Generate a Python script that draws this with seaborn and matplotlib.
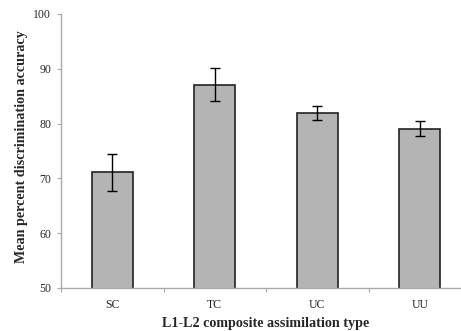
import matplotlib
matplotlib.use("Agg")
import matplotlib.pyplot as plt
import seaborn as sns
import numpy as np

categories = ["SC", "TC", "UC", "UU"]
means = [71.1, 87.1, 81.9, 79.1]
errors = [3.4, 3.0, 1.3, 1.3]

sns.set_style("white")
plt.rcParams['font.family'] = ['Liberation Serif', 'DejaVu Serif']

fig = plt.figure(figsize=(4.61, 3.31), dpi=100)
ax = fig.add_axes([61/461, 43/331, 410/461, 274/331])

sns.barplot(x=categories, y=means, color="#b4b4b4", edgecolor="#222222",
            linewidth=1.2, width=0.4, saturation=1, ax=ax)
ax.errorbar(np.arange(len(categories)), means, yerr=errors, fmt="none",
            ecolor="black", elinewidth=1.0, capsize=3.5, capthick=1.0)

ax.set_ylim(50, 100)
ax.set_xlim(-0.5, 3.5)
ax.set_yticks(range(50, 101, 10))
ax.set_xticks(np.arange(-0.5, 3.6, 1.0), minor=False)
ax.set_xticklabels([])
ax.set_xticks(np.arange(len(categories)), minor=True)
ax.set_xticklabels(categories, minor=True)
ax.tick_params(axis="x", which="major", length=3, color="#aaaaaa", direction="out", bottom=True)
ax.tick_params(axis="x", which="minor", length=0, labelsize=8.5, pad=8)
ax.tick_params(axis="y", length=3, color="#aaaaaa", direction="out", left=True, labelsize=8.5, pad=4)

for s in ["top", "right"]:
    ax.spines[s].set_visible(False)
for s in ["left", "bottom"]:
    ax.spines[s].set_color("#aaaaaa")
    ax.spines[s].set_linewidth(1.0)

ax.set_xlabel("L1-L2 composite assimilation type", fontweight="bold", fontsize=10.2, labelpad=4)
ax.set_ylabel("Mean percent discrimination accuracy", fontweight="bold", fontsize=10.2)
ax.yaxis.set_label_coords(-0.08, 0.516)

fig.savefig("out.png", dpi=100)
